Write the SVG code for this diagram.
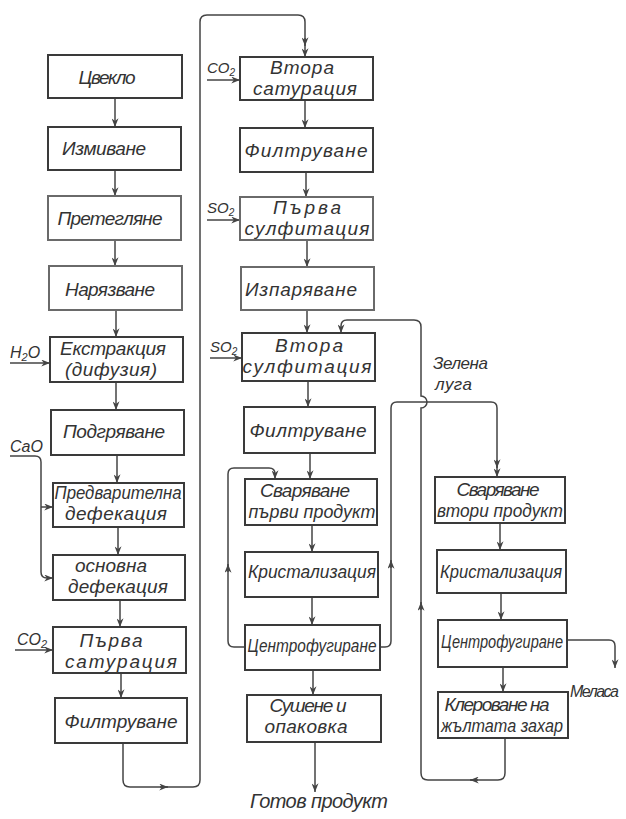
<svg xmlns="http://www.w3.org/2000/svg" width="626" height="819" viewBox="0 0 626 819">
<defs>
<style>
.box rect{fill:none;stroke:#3a3a3a;stroke-width:2}
.lt rect{stroke:#6a6a6a}
text{font-family:"Liberation Sans","DejaVu Sans",sans-serif;font-style:italic;font-size:19px;fill:#333;text-anchor:middle}
.lab{text-anchor:start;font-size:16px}
.sm{font-size:15px}
.c path{fill:none;stroke:#444;stroke-width:1.5}
</style>
<marker id="ar" viewBox="0 0 10 8" refX="10" refY="4" markerWidth="9" markerHeight="7" markerUnits="userSpaceOnUse" orient="auto">
<path d="M0,0 L10,4 L0,8 L3,4 z" fill="#444"/>
</marker>
</defs>
<rect width="626" height="819" fill="#fff"/>

<g class="c" id="connectors">
<path d="M115,98 V127" marker-end="url(#ar)"/>
<path d="M115,170 V196" marker-end="url(#ar)"/>
<path d="M115,240 V266" marker-end="url(#ar)"/>
<path d="M116,310 V337" marker-end="url(#ar)"/>
<path d="M116,382 V410" marker-end="url(#ar)"/>
<path d="M117,455 V483" marker-end="url(#ar)"/>
<path d="M118,527 V555" marker-end="url(#ar)"/>
<path d="M120,600 V627" marker-end="url(#ar)"/>
<path d="M121,673 V698" marker-end="url(#ar)"/>
<path d="M10,363 H50" marker-end="url(#ar)"/>
<path d="M10,456 H35 Q41,456 41,462 V572 Q41,578 47,578 H53" marker-end="url(#ar)"/>
<path d="M41,507 H53" marker-end="url(#ar)"/>
<path d="M15,650 H53" marker-end="url(#ar)"/>
<path d="M123,743 V780 Q123,787 130,787 H193 Q200,787 200,780 V22 Q200,15 207,15 H298 Q305,15 305,22 V57" marker-end="url(#ar)"/>
<path d="M160,787 H168" marker-end="url(#ar)"/>
<path d="M305,38 V46" marker-end="url(#ar)"/>
<path d="M305,100 V128" marker-end="url(#ar)"/>
<path d="M306,172 V197" marker-end="url(#ar)"/>
<path d="M307,240 V267" marker-end="url(#ar)"/>
<path d="M307,310 V333" marker-end="url(#ar)"/>
<path d="M308,381 V407" marker-end="url(#ar)"/>
<path d="M310,453 V479" marker-end="url(#ar)"/>
<path d="M312,525 V552" marker-end="url(#ar)"/>
<path d="M312,597 V625" marker-end="url(#ar)"/>
<path d="M313,670 V695" marker-end="url(#ar)"/>
<path d="M315,742 V792" marker-end="url(#ar)"/>
<path d="M207,80 H240" marker-end="url(#ar)"/>
<path d="M207,220 H240" marker-end="url(#ar)"/>
<path d="M210,358 H242" marker-end="url(#ar)"/>
<path d="M245,647 H234 Q228,647 228,641 V474 Q228,468 234,468 H269 Q275,468 275,474 V479" marker-end="url(#ar)"/>
<path d="M228,572 V564" marker-end="url(#ar)"/>
<path d="M380,647 H385 Q391,647 391,641 V408 Q391,402 397,402 H491 Q497,402 497,408 V477" marker-end="url(#ar)"/>
<path d="M391,568 V560" marker-end="url(#ar)"/>
<path d="M497,460 V468" marker-end="url(#ar)"/>
<path d="M505,738 V773 Q505,780 498,780 H428 Q421,780 421,773 V408 A6,6 0 0 0 421,396 V327 Q421,320 414,320 H347 Q341,320 341,326 V333" marker-end="url(#ar)"/>
<path d="M478,780 H470" marker-end="url(#ar)"/>
<path d="M421,610 V602" marker-end="url(#ar)"/>
<path d="M500,523 V550" marker-end="url(#ar)"/>
<path d="M501,593 V620" marker-end="url(#ar)"/>
<path d="M503,667 V692" marker-end="url(#ar)"/>
<path d="M567,640 H609 Q615,640 615,646 V668" marker-end="url(#ar)"/>
</g>

<g id="n1" class="box"><rect x="48" y="55" width="134" height="43"/><text x="107" y="84" textLength="57" lengthAdjust="spacing">Цвекло</text></g>
<g id="n2" class="box"><rect x="48" y="127" width="133" height="43"/><text x="104" y="155" textLength="84" lengthAdjust="spacing">Измиване</text></g>
<g id="n3" class="box lt"><rect x="48" y="196" width="133" height="44"/><text x="110" y="225" textLength="105" lengthAdjust="spacing" fill="#555">Претегляне</text></g>
<g id="n4" class="box lt"><rect x="49" y="266" width="133" height="44"/><text x="110" y="296" textLength="90" lengthAdjust="spacing" fill="#555">Нарязване</text></g>
<g id="n5" class="box"><rect x="50" y="337" width="133" height="45"/><text x="113" y="355" textLength="106" lengthAdjust="spacing">Екстракция</text><text x="111" y="376" textLength="92" lengthAdjust="spacing">(дифузия)</text></g>
<g id="n6" class="box"><rect x="51" y="410" width="133" height="45"/><text x="114" y="438" textLength="102" lengthAdjust="spacing">Подгряване</text></g>
<g id="n7" class="box"><rect x="53" y="483" width="131" height="44"/><text x="118" y="499" textLength="127" lengthAdjust="spacingAndGlyphs">Предварителна</text><text x="116" y="520" textLength="102" lengthAdjust="spacing">дефекация</text></g>
<g id="n8" class="box"><rect x="53" y="555" width="132" height="45"/><text x="111" y="572" textLength="72" lengthAdjust="spacing">основна</text><text x="118" y="593" textLength="100" lengthAdjust="spacing">дефекация</text></g>
<g id="n9" class="box"><rect x="53" y="627" width="133" height="46"/><text x="111" y="647" textLength="63" lengthAdjust="spacing">Първа</text><text x="121" y="668" textLength="112" lengthAdjust="spacing">сатурация</text></g>
<g id="n10" class="box"><rect x="55" y="698" width="132" height="45"/><text x="121" y="728" textLength="113" lengthAdjust="spacing">Филтруване</text></g>

<g id="m1" class="box"><rect x="240" y="57" width="133" height="43"/><text x="302" y="74" textLength="64" lengthAdjust="spacing">Втора</text><text x="305" y="95" textLength="104" lengthAdjust="spacing">сатурация</text></g>
<g id="m2" class="box"><rect x="240" y="128" width="133" height="44"/><text x="306" y="157" textLength="123" lengthAdjust="spacing">Филтруване</text></g>
<g id="m3" class="box lt"><rect x="240" y="197" width="133" height="43"/><text x="307" y="214" textLength="68" lengthAdjust="spacing" fill="#555">Първа</text><text x="307" y="235" textLength="125" lengthAdjust="spacing" fill="#555">сулфитация</text></g>
<g id="m4" class="box lt"><rect x="241" y="267" width="133" height="43"/><text x="301" y="296" textLength="112" lengthAdjust="spacing" fill="#555">Изпаряване</text></g>
<g id="m5" class="box"><rect x="242" y="333" width="133" height="48"/><text x="309" y="352" textLength="68" lengthAdjust="spacing">Втора</text><text x="307" y="373" textLength="129" lengthAdjust="spacing">сулфитация</text></g>
<g id="m6" class="box"><rect x="244" y="407" width="131" height="46"/><text x="308" y="437" textLength="117" lengthAdjust="spacing">Филтруване</text></g>
<g id="m7" class="box"><rect x="245" y="479" width="132" height="46"/><text x="305" y="497" textLength="90" lengthAdjust="spacing">Сваряване</text><text x="312" y="518" textLength="127" lengthAdjust="spacingAndGlyphs">първи продукт</text></g>
<g id="m8" class="box"><rect x="245" y="552" width="133" height="45"/><text x="312" y="578" textLength="128" lengthAdjust="spacingAndGlyphs">Кристализация</text></g>
<g id="m9" class="box"><rect x="245" y="625" width="135" height="45"/><text x="312" y="652" textLength="129" lengthAdjust="spacingAndGlyphs">Центрофугиране</text></g>
<g id="m10" class="box"><rect x="247" y="695" width="134" height="47"/><text x="308" y="712" textLength="77" lengthAdjust="spacing">Сушене и</text><text x="306" y="733" textLength="83" lengthAdjust="spacing">опаковка</text></g>

<g id="r1" class="box"><rect x="435" y="477" width="130" height="46"/><text x="498" y="496" textLength="83" lengthAdjust="spacing">Сваряване</text><text x="500" y="517" textLength="126" lengthAdjust="spacingAndGlyphs">втори продукт</text></g>
<g id="r2" class="box"><rect x="437" y="550" width="129" height="43"/><text x="501" y="578" textLength="122" lengthAdjust="spacingAndGlyphs">Кристализация</text></g>
<g id="r3" class="box"><rect x="438" y="620" width="129" height="47"/><text x="502" y="648" textLength="122" lengthAdjust="spacingAndGlyphs">Центрофугиране</text></g>
<g id="r4" class="box"><rect x="438" y="692" width="130" height="46"/><text x="497" y="711" textLength="105" lengthAdjust="spacing">Клероване на</text><text x="502" y="732" textLength="122" lengthAdjust="spacingAndGlyphs">жълтата захар</text></g>

<g id="labels">
<text class="lab" x="10" y="358">H<tspan font-size="11" dy="3">2</tspan><tspan dy="-3">O</tspan></text>
<text class="lab" x="10" y="452">CaO</text>
<text class="lab" x="17" y="645">CO<tspan font-size="11" dy="3">2</tspan></text>
<text class="lab sm" x="207" y="73">CO<tspan font-size="10" dy="3">2</tspan></text>
<text class="lab sm" x="207" y="213">SO<tspan font-size="10" dy="3">2</tspan></text>
<text class="lab sm" x="210" y="352">SO<tspan font-size="10" dy="3">2</tspan></text>
<text class="lab" x="433" y="369" style="font-size:17px" textLength="55" lengthAdjust="spacing">Зелена</text>
<text class="lab" x="435" y="390" style="font-size:17px" textLength="37" lengthAdjust="spacing">луга</text>
<text class="lab" x="570" y="697" textLength="49" lengthAdjust="spacing">Меласа</text>
<text class="lab" x="250" y="808" style="font-size:20px" textLength="138" lengthAdjust="spacing">Готов продукт</text>
</g>
</svg>
